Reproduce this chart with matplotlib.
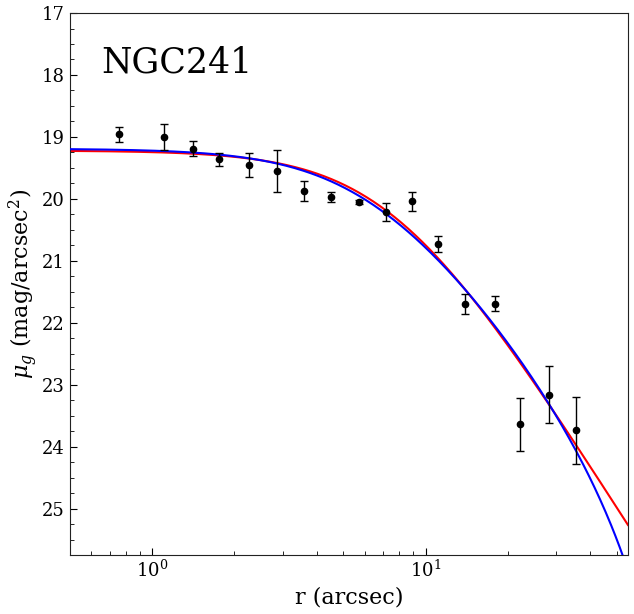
import numpy as np
import matplotlib
matplotlib.use("Agg")
import matplotlib.pyplot as plt

# Data
r_arcsec = [0.755, 1.11, 1.415, 1.76, 2.26, 2.87, 3.60, 4.50, 5.70, 7.15,
            8.90, 11.15, 14.0, 17.9, 22.2, 28.2, 35.4]
mu_g = [18.96, 19.00, 19.19, 19.36, 19.45, 19.55, 19.875, 19.97, 20.05, 20.215,
        20.04, 20.73, 21.70, 21.69, 23.64, 23.16, 23.74]
mu_err = [0.12, 0.205, 0.12, 0.105, 0.195, 0.34, 0.16, 0.08, 0.03, 0.145,
          0.155, 0.135, 0.16, 0.12, 0.43, 0.46, 0.535]

# Model fit parameters
red_mu0, red_A, red_rc = 19.22, 3.5, 7.6          # power-law core model
blue_mu0, blue_rc, blue_rt = 19.19, 6.0, 88.0      # King model

title = "NGC241"

plt.rcParams['font.family'] = ['DejaVu Serif']
plt.rcParams['mathtext.fontset'] = 'dejavuserif'

fig = plt.figure(figsize=(6.34, 6.14), dpi=100)
ax = fig.add_axes([0.110, 0.0961, 0.8805, 0.8827])

rr = np.logspace(np.log10(0.5), np.log10(55), 400)
red = red_mu0 + red_A * np.log10(1 + (rr / red_rc) ** 2)

def king(r):
    xt = 1 / np.sqrt(1 + (blue_rt / blue_rc) ** 2)
    val = (1 / np.sqrt(1 + (r / blue_rc) ** 2) - xt) ** 2
    val0 = (1 - xt) ** 2
    return blue_mu0 - 2.5 * np.log10(val / val0)

blue = king(rr)

ax.plot(rr, red, color='red', lw=1.5, zorder=2)
ax.plot(rr, blue, color='blue', lw=1.5, zorder=3)
ax.errorbar(r_arcsec, mu_g, yerr=mu_err, fmt='o', color='black', ms=4.5,
            capsize=3, elinewidth=1, capthick=1, zorder=4)

ax.set_xscale('log')
ax.set_xlim(0.5, 55)
ax.set_ylim(25.75, 17)
ax.set_yticks(range(17, 26))
ax.yaxis.set_minor_locator(matplotlib.ticker.MultipleLocator(0.25))
ax.tick_params(which='both', direction='in', labelsize=13)
ax.tick_params(which='major', length=5)
ax.tick_params(which='minor', length=3)
for s in ax.spines.values():
    s.set_color('#222222')

ax.set_xlabel('r (arcsec)', fontsize=16)
ax.set_ylabel(r'$\mu_g$ (mag/arcsec$^2$)', fontsize=16, labelpad=1)
ax.text(0.057, 0.908, title, transform=ax.transAxes, fontsize=25,
        va='center', ha='left')

fig.savefig('out.png', dpi=100)
